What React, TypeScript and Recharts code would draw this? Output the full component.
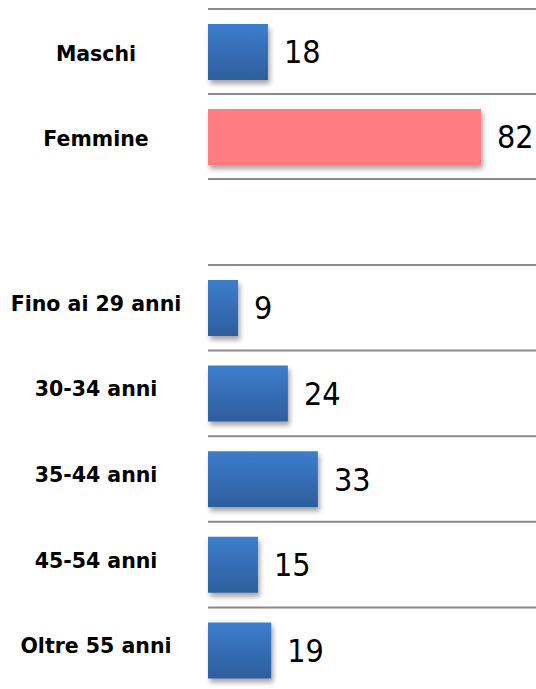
import React from 'react';
import { BarChart, Bar, XAxis, YAxis, CartesianGrid, Cell, LabelList } from 'recharts';

const genderCategories = ['Maschi', 'Femmine'];
const genderValues = [18, 82];
const ageCategories = ['Fino ai 29 anni', '30-34 anni', '35-44 anni', '45-54 anni', 'Oltre 55 anni'];
const ageValues = [9, 24, 33, 15, 19];

const genderData = genderCategories.map((name, i) => ({ name, value: genderValues[i] }));
const ageData = ageCategories.map((name, i) => ({ name, value: ageValues[i] }));

const BLUE = 'url(#blueGrad)';
const PINK = '#FF7C80';
const genderFills = [BLUE, PINK];

const makeTick = (dy: number) => (props: any) => {
  const { y, payload } = props;
  return (
    <text
      x={96}
      y={y}
      dy={dy}
      textAnchor="middle"
      dominantBaseline="central"
      fontFamily="'DejaVu Sans', Verdana, sans-serif"
      fontWeight="bold"
      fontSize={20.5}
      fill="#000"
    >
      {payload.value}
    </text>
  );
};

const boundaryGen = (n: number) => (props: any) => {
  const { offset } = props;
  const step = offset.height / n;
  const out: number[] = [];
  for (let i = 0; i <= n; i++) out.push(offset.top + i * step);
  return out;
};

const labelStyle = {
  fontFamily: "'Liberation Sans Narrow', 'DejaVu Sans Condensed', 'Liberation Sans', sans-serif",
  fontSize: 32,
  fill: '#000',
};

function Panel({ data, fills, top, marginTop, plotHeight, tickDy }: any) {
  const height = marginTop + plotHeight + 10;
  return (
    <div style={{ position: 'absolute', left: 0, top }}>
      <BarChart
        width={541}
        height={height}
        data={data}
        layout="vertical"
        margin={{ top: marginTop, right: 0, bottom: 10, left: 0 }}
      >
        <CartesianGrid
          vertical={false}
          stroke="#8a8a8a"
          strokeWidth={2}
          horizontalCoordinatesGenerator={boundaryGen(data.length)}
        />
        <XAxis type="number" domain={[0, 100]} hide />
        <YAxis
          type="category"
          dataKey="name"
          width={208}
          axisLine={false}
          tickLine={false}
          tick={makeTick(tickDy)}
          interval={0}
        />
        <Bar dataKey="value" barSize={56} isAnimationActive={false}>
          {data.map((_: any, i: number) => (
            <Cell key={i} fill={fills ? fills[i] : BLUE} filter="url(#barShadow)" />
          ))}
          <LabelList dataKey="value" position="right" offset={16} style={labelStyle} />
        </Bar>
      </BarChart>
    </div>
  );
}

export default function App() {
  return (
    <div
      style={{
        position: 'absolute',
        left: 0,
        top: 0,
        width: 536,
        height: 689,
        overflow: 'hidden',
        background: '#fff',
      }}
    >
      <svg width={0} height={0} style={{ position: 'absolute' }}>
        <defs>
          <linearGradient id="blueGrad" x1="0" y1="0" x2="0" y2="1">
            <stop offset="0%" stopColor="#3D7DCD" />
            <stop offset="100%" stopColor="#2D5E9C" />
          </linearGradient>
          <filter id="barShadow" x="-10%" y="-10%" width="130%" height="140%">
            <feDropShadow dx={2} dy={4} stdDeviation={2.5} floodColor="#000" floodOpacity={0.35} />
          </filter>
        </defs>
      </svg>
      <Panel data={genderData} fills={genderFills} top={0} marginTop={9} plotHeight={170} tickDy={2} />
      <Panel data={ageData} top={240} marginTop={25} plotHeight={428} tickDy={-4} />
    </div>
  );
}
